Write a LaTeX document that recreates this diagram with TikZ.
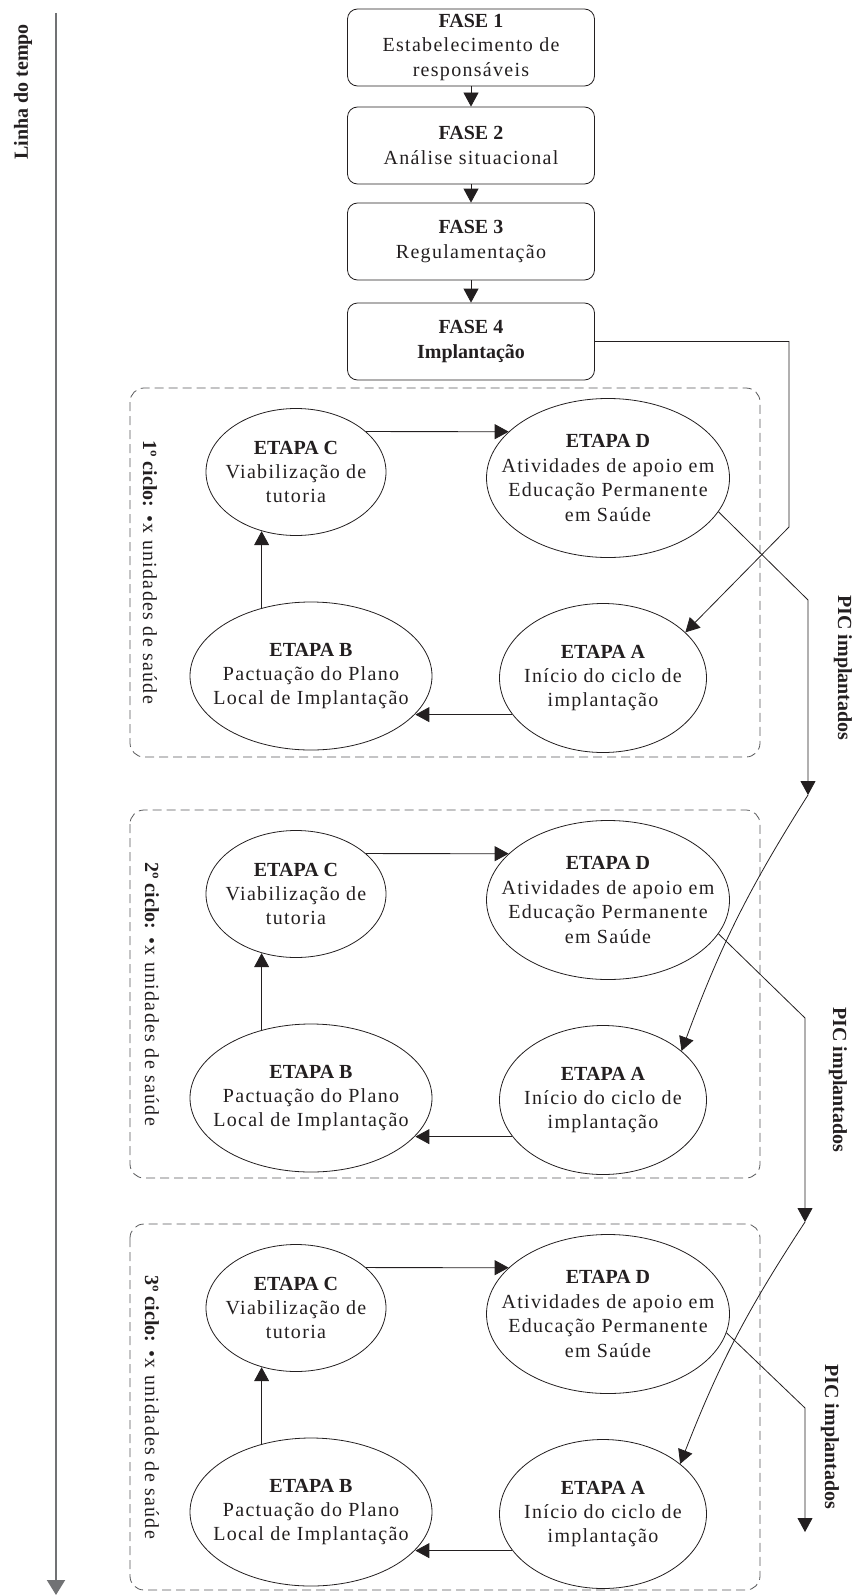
\documentclass[tikz,border=0pt]{standalone}
\usepackage{fontspec}
\setmainfont{Liberation Serif}[LetterSpace=6.5, BoldFeatures={LetterSpace=0}]
\usepackage{xcolor}
\usetikzlibrary{arrows.meta,shapes.geometric}
\definecolor{ink}{HTML}{231F20}
\definecolor{rule}{HTML}{58595B}

\begin{document}
\fontsize{10}{12.2}\selectfont
\begin{tikzpicture}[x=0.5pt, y=-0.5pt, >={Triangle[width=7.5pt,length=7pt]},
  every node/.style={text=ink},
  fase/.style={draw=ink, rectangle, rounded corners=5pt, minimum width=123.5pt,
    minimum height=38.5pt, align=center, inner sep=2pt},
  etapa/.style={draw=ink, ellipse, align=center, inner sep=-14pt},
  etapaC/.style={etapa, minimum width=90pt, minimum height=63.5pt},
  etapaD/.style={etapa, minimum width=121.5pt, minimum height=79.5pt},
  etapaB/.style={etapa, minimum width=121pt, minimum height=74pt},
  etapaA/.style={etapa, minimum width=103.5pt, minimum height=74.5pt},
  ciclo/.style={rotate=-90},
  piclabel/.style={rotate=-90, font=\bfseries},
  cyclebox/.style={draw=rule, dash pattern=on 4.5pt off 2.5pt, rounded corners=7pt},
  link/.style={draw=ink, ->}]
  \useasboundingbox (0,0) rectangle (857,1595);
  % time line
  \coordinate (t0) at (56,13);
  \coordinate (t1) at (56,1595);
  \draw[rule!85, line width=1pt, -{Triangle[width=9pt,length=7.5pt]}] (t0) -- (t1);
  \node[rotate=90, font=\bfseries] (tl) at (23,92) {Linha do tempo};
  % phases
  \node[fase] (f1) at (471,47.5) {\textbf{FASE 1}\\Estabelecimento de\\responsáveis};
  \node[fase] (f2) at (471,145.5) {\textbf{FASE 2}\\Análise situacional};
  \node[fase] (f3) at (471,241.5) {\textbf{FASE 3}\\Regulamentação};
  \node[fase] (f4) at (471,341.5) {\textbf{FASE 4}\\\textbf{Implantação}};
  \draw[link] (f1) -- (f2);
  \draw[link] (f2) -- (f3);
  \draw[link] (f3) -- (f4);
  % 1st cycle
  \draw[cyclebox] (130,388) rectangle (760,757);
  \node[ciclo] (l1) at (150,572) {\textbf{1º ciclo:} •x unidades de saúde};
  \node[etapaC] (c1) at (296,472) {\textbf{ETAPA C}\\Viabilização de\\tutoria};
  \node[etapaD] (d1) at (608,478) {\textbf{ETAPA D}\\Atividades de apoio em\\Educação Permanente\\em Saúde};
  \node[etapaB] (b1) at (311,676) {\textbf{ETAPA B}\\Pactuação do Plano\\Local de Implantação};
  \node[etapaA] (a1) at (603,678) {\textbf{ETAPA A}\\Início do ciclo de\\implantação};
  \draw[link] (c1.30) -- (d1.155);
  \draw[link] (b1.126) -- (b1.126 |- c1.240);
  \draw[link] (a1.202) -- (a1.202 -| b1.-20);
  % 2nd cycle
  \draw[cyclebox] (130,810) rectangle (760,1178);
  \node[ciclo] (l2) at (152,994) {\textbf{2º ciclo:} •x unidades de saúde};
  \node[etapaC] (c2) at (296,894) {\textbf{ETAPA C}\\Viabilização de\\tutoria};
  \node[etapaD] (d2) at (608,900) {\textbf{ETAPA D}\\Atividades de apoio em\\Educação Permanente\\em Saúde};
  \node[etapaB] (b2) at (311,1098) {\textbf{ETAPA B}\\Pactuação do Plano\\Local de Implantação};
  \node[etapaA] (a2) at (603,1100) {\textbf{ETAPA A}\\Início do ciclo de\\implantação};
  \draw[link] (c2.30) -- (d2.155);
  \draw[link] (b2.126) -- (b2.126 |- c2.240);
  \draw[link] (a2.202) -- (a2.202 -| b2.-20);
  % 3rd cycle
  \draw[cyclebox] (130,1224) rectangle (760,1590);
  \node[ciclo] (l3) at (152,1407) {\textbf{3º ciclo:} •x unidades de saúde};
  \node[etapaC] (c3) at (296,1308) {\textbf{ETAPA C}\\Viabilização de\\tutoria};
  \node[etapaD] (d3) at (608,1314) {\textbf{ETAPA D}\\Atividades de apoio em\\Educação Permanente\\em Saúde};
  \node[etapaB] (b3) at (311,1512) {\textbf{ETAPA B}\\Pactuação do Plano\\Local de Implantação};
  \node[etapaA] (a3) at (603,1514) {\textbf{ETAPA A}\\Início do ciclo de\\implantação};
  \draw[link] (c3.30) -- (d3.155);
  \draw[link] (b3.126) -- (b3.126 |- c3.240);
  \draw[link] (a3.202) -- (a3.202 -| b3.-20);
  % phase 4 starts the first cycle
  \coordinate (k0) at (789,527);
  \draw[link] (f4.east) -| (k0) -- (a1.29);
  % implanted PIC, each feeding the next cycle
  \coordinate (q1) at (808,600);
  \coordinate (p1) at (808,795);
  \draw[link] (d1.-17) -- (q1) -- (p1);
  \node[piclabel] (pic1) at (843,668) {PIC implantados};
  \draw[link] (p1) to[bend right=6] (a2.32);
  \coordinate (q2) at (805,1018);
  \coordinate (p2) at (805,1222);
  \draw[link] (d2.-17) -- (q2) -- (p2);
  \node[piclabel] (pic2) at (838,1080) {PIC implantados};
  \draw[link] (p2) to[bend right=6] (a3.33);
  \coordinate (q3) at (805,1408);
  \coordinate (p3) at (805,1532);
  \draw[link] (d3.-9) -- (q3) -- (p3);
  \node[piclabel] (pic3) at (830,1437) {PIC implantados};
\end{tikzpicture}
\end{document}
